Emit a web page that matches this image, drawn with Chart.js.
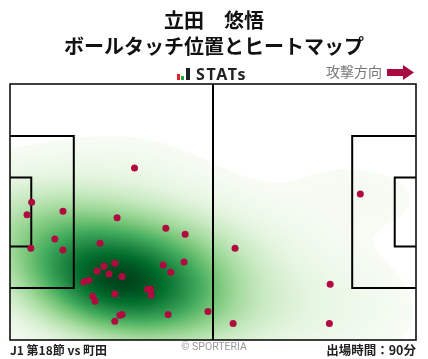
<!DOCTYPE html>
<html><head><meta charset="utf-8">
<script src="https://cdn.jsdelivr.net/npm/chart.js@4"></script>
<style>
html,body{margin:0;padding:0;background:#fff;}
#wrap{position:relative;width:428px;height:359px;overflow:hidden;font-family:"Noto Sans CJK JP","Noto Sans",sans-serif;}
#c{position:absolute;left:0;top:0;width:428px;height:359px;}
.t{position:absolute;white-space:nowrap;line-height:1;}
</style></head>
<body><div id="wrap">
<canvas id="c" width="428" height="359"></canvas>
<div class="t" style="left:0;width:428px;text-align:center;top:10px;font-size:20px;font-weight:700;color:#111">立田　悠悟</div>
<div class="t" style="left:0;width:428px;text-align:center;top:36px;font-size:20px;font-weight:700;color:#111">ボールタッチ位置とヒートマップ</div>
<div style="position:absolute;left:177px;top:74px;width:3px;height:6px;background:#e0202a"></div>
<div style="position:absolute;left:181px;top:76px;width:3px;height:4px;background:#1fa53b"></div>
<div style="position:absolute;left:186px;top:68px;width:4px;height:12px;background:#222"></div>
<div class="t" style="left:196px;top:66px;font-size:16px;font-weight:700;color:#222;letter-spacing:1.6px;font-family:'Noto Sans','DejaVu Sans',sans-serif">STATs</div>
<div class="t" style="left:326px;top:64px;font-size:14px;color:#777">攻撃方向</div>
<svg style="position:absolute;left:387px;top:65px" width="27" height="15" viewBox="0 0 27 15"><polygon points="0,4 16,4 16,0 27,7.5 16,15 16,11 0,11" fill="#a80a40"/></svg>
<div class="t" style="left:10px;top:344px;font-size:12px;font-weight:700;color:#222">J1 第18節 vs 町田</div>
<div class="t" style="left:0;width:428px;text-align:center;top:342px;font-size:10.5px;color:#999;font-family:Roboto,'Noto Sans',sans-serif">© SPORTERIA</div>
<div class="t" style="right:12px;top:344px;font-size:12.5px;font-weight:700;color:#222">出場時間：90分</div>
</div>
<script>
// Pitch dimensions (metres)
const pitchLength = 105;
const pitchWidth = 68;
// Ball touch positions (x: metres from own goal line, y: metres from top touchline)
const touchX = [32.2,5.6,13.7,4.4,27.7,40.3,45.3,11.6,23.3,13.7,5.4,27.1,24.3,22.5,25.6,29.0,20.4,19.1,39.6,45.0,41.6,35.6,36.4,36.5,27.1,21.4,22.0,40.9,51.2,29.0,28.4,27.1,90.6,58.2,82.8,57.7,82.6];
const touchY = [22.3,31.4,33.8,34.7,35.5,38.3,39.9,41.2,42.3,44.1,43.6,47.6,48.4,49.7,50.5,51.1,52.1,52.6,48.1,47.3,50.0,54.5,54.5,56.1,55.8,56.4,57.7,61.2,60.4,61.2,61.4,63.0,29.2,43.6,53.2,63.6,63.6];

const greens = ['#f7fcf5','#e5f5e0','#c7e9c0','#a1d99b','#74c476','#41ab5d','#238b45','#006d2c','#00441b'];
function hex(c){return [parseInt(c.slice(1,3),16),parseInt(c.slice(3,5),16),parseInt(c.slice(5,7),16)];}
const gRGB = greens.map(hex);
function cmap(t){
  t=Math.max(0,Math.min(1,t))*(gRGB.length-1);
  const i=Math.min(gRGB.length-2,Math.floor(t)), f=t-i;
  return gRGB[i].map((v,k)=>Math.round(v+(gRGB[i+1][k]-v)*f));
}

function makeKde(xs, ys, adjust){
  const n=xs.length;
  const mx=xs.reduce((a,b)=>a+b,0)/n, my=ys.reduce((a,b)=>a+b,0)/n;
  let sxx=0,syy=0,sxy=0;
  for(let i=0;i<n;i++){const dx=xs[i]-mx,dy=ys[i]-my;sxx+=dx*dx;syy+=dy*dy;sxy+=dx*dy;}
  sxx/=(n-1);syy/=(n-1);sxy/=(n-1);
  const f=Math.pow(n,-1/6)*adjust, f2=f*f;
  const a=sxx*f2, b=sxy*f2, d=syy*f2;
  const det=a*d-b*b;
  const ia=d/det, ib=-b/det, id=a/det;
  const dens=(x,y)=>{let s=0;for(let i=0;i<n;i++){const dx=x-xs[i],dy=y-ys[i];s+=Math.exp(-0.5*(ia*dx*dx+2*ib*dx*dy+id*dy*dy));}return s;};
  return {dens, bwx:Math.sqrt(a), bwy:Math.sqrt(d)};
}

const heatPlugin = {
  id:'heat',
  beforeDatasetsDraw(chart){
    const {ctx, chartArea:ar, scales:{x,y}} = chart;
    const kde = makeKde(touchX, touchY, 1.5);
    const gx0=Math.min(...touchX)-3*kde.bwx, gx1=Math.max(...touchX)+3*kde.bwx;
    const gy0=Math.min(...touchY)-3*kde.bwy, gy1=Math.max(...touchY)+3*kde.bwy;
    const G=150, vals=[];
    for(let i=0;i<G;i++)for(let j=0;j<G;j++)vals.push(kde.dens(gx0+(gx1-gx0)*i/(G-1), gy0+(gy1-gy0)*j/(G-1)));
    vals.sort((p,q)=>p-q);
    const tot=vals.reduce((p,q)=>p+q,0);
    let cum=0, thr=vals[0];
    for(const v of vals){cum+=v; if(cum/tot>=0.05){thr=v;break;}}
    const vmax=vals[vals.length-1];
    const W=Math.round(ar.right-ar.left), H=Math.round(ar.bottom-ar.top);
    const off=document.createElement('canvas'); off.width=W; off.height=H;
    const octx=off.getContext('2d'); const img=octx.createImageData(W,H);
    for(let j=0;j<H;j++){
      const dy=y.getValueForPixel(ar.top+j+0.5);
      for(let i=0;i<W;i++){
        const dx=x.getValueForPixel(ar.left+i+0.5);
        const v=kde.dens(dx,dy);
        const k=(j*W+i)*4;
        if(v<thr){img.data[k+3]=0;continue;}
        const c=cmap((v-thr)/(vmax-thr));
        img.data[k]=c[0];img.data[k+1]=c[1];img.data[k+2]=c[2];img.data[k+3]=255;
      }
    }
    octx.putImageData(img,0,0);
    ctx.save();
    ctx.drawImage(off, ar.left, ar.top);
    const px=v=>x.getPixelForValue(v), py=v=>y.getPixelForValue(v);
    ctx.strokeStyle='#000';
    ctx.lineWidth=1.5;
    ctx.strokeRect(px(0), py(0), px(pitchLength)-px(0), py(pitchWidth)-py(0));
    ctx.lineWidth=2;
    ctx.beginPath();
    ctx.moveTo(px(pitchLength/2), py(0)); ctx.lineTo(px(pitchLength/2), py(pitchWidth));
    const boxes=[[16.5,40.32],[5.5,18.32]];
    for(const [dep,wid] of boxes){
      const y0=(pitchWidth-wid)/2, y1=(pitchWidth+wid)/2;
      ctx.moveTo(px(0),py(y0)); ctx.lineTo(px(dep),py(y0)); ctx.lineTo(px(dep),py(y1)); ctx.lineTo(px(0),py(y1));
      ctx.moveTo(px(pitchLength),py(y0)); ctx.lineTo(px(pitchLength-dep),py(y0)); ctx.lineTo(px(pitchLength-dep),py(y1)); ctx.lineTo(px(pitchLength),py(y1));
    }
    ctx.stroke();
    ctx.restore();
  }
};

new Chart(document.getElementById('c'), {
  type:'scatter',
  data:{datasets:[{data:touchX.map((v,i)=>({x:v,y:touchY[i]})), backgroundColor:'#b00a40', borderWidth:0, pointRadius:3.5}]},
  options:{
    responsive:false, animation:false, devicePixelRatio:1,
    layout:{padding:{left:10,right:12,top:84,bottom:19}},
    plugins:{legend:{display:false}, tooltip:{enabled:false}},
    scales:{
      x:{type:'linear', min:0, max:pitchLength, display:false},
      y:{type:'linear', min:0, max:pitchWidth, reverse:true, display:false}
    }
  },
  plugins:[heatPlugin]
});
</script>
</body></html>
